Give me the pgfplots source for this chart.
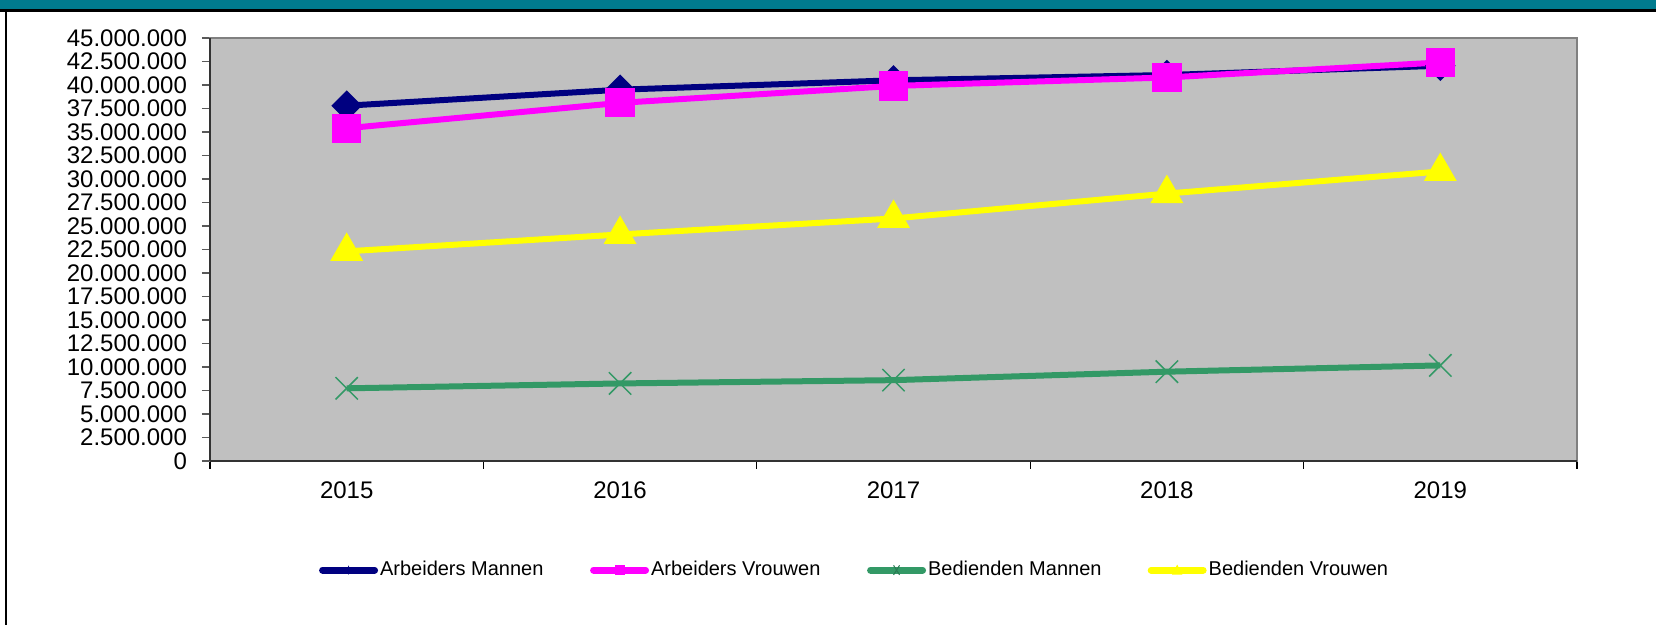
\documentclass[border=0pt]{standalone}
\usepackage{pgfplots}
\pgfplotsset{compat=1.18}
\usepackage{fontspec}
\setmainfont{Liberation Sans}
\definecolor{plotgray}{HTML}{C0C0C0}
\definecolor{tealbar}{HTML}{007B8E}
\definecolor{navyc}{HTML}{000080}
\definecolor{magc}{HTML}{FF00FF}
\definecolor{greenc}{HTML}{339966}
\definecolor{yelc}{HTML}{FFFF00}
\begin{document}
\begin{tikzpicture}
\useasboundingbox (0pt,0pt) rectangle (828pt,312.5pt);
\fill[white] (0pt,0pt) rectangle (828pt,312.5pt);
\fill[tealbar] (0pt,308pt) rectangle (828pt,312.5pt);
\fill[black] (0pt,306.5pt) rectangle (828pt,308pt);
\fill[black] (2.35pt,0pt) rectangle (3.65pt,308pt);
\begin{axis}[
  at={(105pt,82pt)}, anchor=south west,
  scale only axis, width=683.5pt, height=211.5pt,
  xmin=-0.5, xmax=4.5, ymin=0, ymax=45000000,
  axis background/.style={fill=plotgray},
  axis line style={draw=gray, line width=1.2pt},
  xtick={0,1,2,3,4},
  xticklabels={2015,2016,2017,2018,2019},
  major x tick style={draw=none},
  minor xtick={-0.5,0.5,1.5,2.5,3.5,4.5},
  minor x tick style={black, line width=0.6pt},
  minor tick length=4pt,
  ytick={0,2500000,...,45000000},
  y tick style={gray!70!black, line width=0.8pt},
  major tick length=4pt,
  tick align=outside,
  xtick pos=bottom, ytick pos=left,
  scaled y ticks=false,
  yticklabel style={/tikz/xshift=-4pt, /pgf/number format/.cd, fixed, 1000 sep={.}, assume math mode=true},
  ticklabel style={font=\fontsize{12pt}{14pt}\selectfont, text=black},
  xticklabel style={yshift=-3pt},
  legend columns=4,
  legend style={at={(0.0795,-0.258)}, anchor=west, draw=none, fill=none,
    inner sep=0pt, font=\fontsize{10pt}{12pt}\selectfont,
    nodes={inner xsep=1pt, inner ysep=0pt, anchor=west},
    /tikz/every even column/.append style={column sep=0pt}},
  after end axis/.code={
    \draw[black!80, line width=1pt] (rel axis cs:0,0) -- (rel axis cs:1,0);
    \draw[black!80, line width=1pt] (rel axis cs:0,0) -- (rel axis cs:0,1);
  },
]
\addplot[navyc, line width=3pt, mark=square*, mark size=3.9pt, mark options={rotate=45, solid},
  legend image code/.code={
    \draw[navyc, line width=3.5pt, line cap=round] (0pt,0pt) -- (26pt,0pt);
    \path[fill=navyc, draw=none] (13pt,2.4pt) -- (13.8pt,0pt) -- (13pt,-2.4pt) -- (12.2pt,0pt) -- cycle;}]
  coordinates {(0,37800000) (1,39500000) (2,40500000) (3,41060000) (4,42050000)};
\addlegendentry{\makebox[104pt][l]{Arbeiders Mannen}}
\addplot[magc, line width=3pt, mark=square*, mark size=5.8pt,
  legend image code/.code={
    \draw[magc, line width=3.5pt, line cap=round] (0pt,0pt) -- (26pt,0pt);
    \path[fill=magc, draw=none] (10.5pt,-2.5pt) rectangle (15.5pt,2.5pt);}]
  coordinates {(0,35400000) (1,38100000) (2,39900000) (3,40800000) (4,42400000)};
\addlegendentry{\makebox[107pt][l]{Arbeiders Vrouwen}}
\addplot[greenc, line width=3pt, mark=x, mark size=7.9pt, mark options={line width=0.75pt},
  legend image code/.code={
    \draw[greenc, line width=3.5pt, line cap=round] (0pt,0pt) -- (26pt,0pt);
    \draw[greenc!80!black, line width=0.5pt] (11.5pt,-2.4pt) -- (14.5pt,2.4pt) (11.5pt,2.4pt) -- (14.5pt,-2.4pt);}]
  coordinates {(0,7730000) (1,8250000) (2,8600000) (3,9500000) (4,10170000)};
\addlegendentry{\makebox[108.8pt][l]{Bedienden Mannen}}
\addplot[yelc, line width=3pt, mark=triangle*, mark size=6.5pt,
  legend image code/.code={
    \draw[yelc, line width=3.5pt, line cap=round] (0pt,0pt) -- (26pt,0pt);
    \path[fill=yelc, draw=none] (13pt,2.8pt) -- (15.6pt,-2.3pt) -- (10.4pt,-2.3pt) -- cycle;}]
  coordinates {(0,22300000) (1,24100000) (2,25800000) (3,28450000) (4,30800000)};
\addlegendentry{Bedienden Vrouwen}
\end{axis}
\end{tikzpicture}
\end{document}
